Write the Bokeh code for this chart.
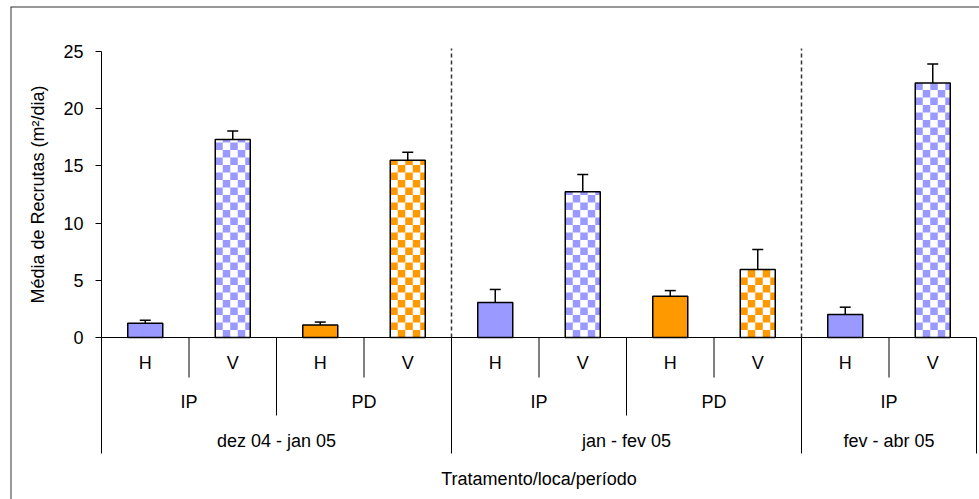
from math import pi

from bokeh.core.properties import value
from bokeh.embed import file_html
from bokeh.models import (ColumnDataSource, FixedTicker, Grid, LinearAxis,
                          Range1d, Span, TeeHead, Whisker)
from bokeh.plotting import figure
from bokeh.resources import INLINE

# ---- data -----------------------------------------------------------------
periodos = ["dez 04 - jan 05"] * 4 + ["jan - fev 05"] * 4 + ["fev - abr 05"] * 2
locais = ["IP", "IP", "PD", "PD", "IP", "IP", "PD", "PD", "IP", "IP"]
tratamentos = ["H", "V", "H", "V", "H", "V", "H", "V", "H", "V"]
medias = [1.25, 17.3, 1.1, 15.5, 3.05, 12.75, 3.6, 5.95, 2.0, 22.25]
erros = [0.25, 0.75, 0.25, 0.7, 1.15, 1.5, 0.5, 1.75, 0.65, 1.65]
y_ticks = [0, 5, 10, 15, 20, 25]

y_titulo = "Média de Recrutas (m²/dia)"
x_titulo = "Tratamento/loca/período"

# ---- styles / geometry ----------------------------------------------------
cores = {"IP": "#9999FF", "PD": "#FF9900"}
FONT = value("Liberation Sans")
W, H = 979, 499
LEFT, TOP = 10, 6                    # corner of the outer frame
AX_X, AX_Y0, AX_YMAX = 101, 337, 51  # screen position of the value axis
CAT_PX = 87.5                        # width of one category slot
UNIT_PX = (AX_Y0 - AX_YMAX) / y_ticks[-1]
BAR_W = 0.4
CELL_PX = 7.5                        # checkerboard cell size
SEP_PX = {1: 40, 2: 78, 3: 116}      # depth of the category separators
LEVEL_OFF = {1: 25.5, 2: 64.5, 3: 103}
TITLE_OFF = 141.5

n = len(medias)
x_range = Range1d(-(AX_X - LEFT) / CAT_PX, (W - AX_X) / CAT_PX)
y_range = Range1d(-(H - AX_Y0) / UNIT_PX, (AX_Y0 - TOP) / UNIT_PX)

p = figure(width=W, height=H, x_range=x_range, y_range=y_range,
           output_backend="svg", toolbar_location=None,
           x_axis_location=None, y_axis_location=None,
           min_border_left=LEFT, min_border_top=TOP,
           min_border_right=0, min_border_bottom=0,
           outline_line_color=None, background_fill_color="white",
           border_fill_color="white")
for r in list(p.center):
    if isinstance(r, Grid):
        r.visible = False

# outer frame (top and left edges)
p.add_layout(Span(location=y_range.end, dimension="width",
                  line_color="#333333", line_width=2))
p.add_layout(Span(location=x_range.start, dimension="height",
                  line_color="#333333", line_width=2))

# value axis
yaxis = LinearAxis(fixed_location=0, bounds=(y_ticks[0], y_ticks[-1]),
                   ticker=FixedTicker(ticks=y_ticks),
                   axis_line_color="black", axis_line_width=1,
                   major_tick_line_color="black", major_tick_out=6,
                   major_tick_in=0, minor_tick_out=0, minor_tick_in=0,
                   major_label_standoff=12,
                   major_label_text_font="Liberation Sans",
                   major_label_text_font_size="18px",
                   major_label_text_color="black")
p.add_layout(yaxis, "left")

# ---- bars -----------------------------------------------------------------
xs = [i + 0.5 for i in range(n)]
uppers = [m + e for m, e in zip(medias, erros)]
cols = [cores[l] for l in locais]
solid = [i for i in range(n) if tratamentos[i] == "H"]
checked = [i for i in range(n) if tratamentos[i] == "V"]

p.vbar(x=[xs[i] for i in solid], top=[medias[i] for i in solid], bottom=0,
       width=BAR_W, fill_color=[cols[i] for i in solid],
       line_color="black", line_width=1.5)

# checkerboard fill of the V bars, built cell by cell inside each bar
cw, ch = CELL_PX / CAT_PX, CELL_PX / UNIT_PX
ql, qr, qb, qt, qc = [], [], [], [], []
for i in checked:
    left, right, top = xs[i] - BAR_W / 2, xs[i] + BAR_W / 2, medias[i]
    r = 0
    while r * ch < top:
        c = 0
        while left + c * cw < right:
            if (r + c) % 2 == 1:
                ql.append(left + c * cw)
                qr.append(min(left + (c + 1) * cw, right))
                qb.append(r * ch)
                qt.append(min((r + 1) * ch, top))
                qc.append(cols[i])
            c += 1
        r += 1

p.vbar(x=[xs[i] for i in checked], top=[medias[i] for i in checked],
       bottom=0, width=BAR_W, fill_color="white", line_color=None)
p.quad(left=ql, right=qr, bottom=qb, top=qt, fill_color=qc, line_color=None)
p.vbar(x=[xs[i] for i in checked], top=[medias[i] for i in checked],
       bottom=0, width=BAR_W, fill_color=None, line_color="black",
       line_width=1.5)

err_src = ColumnDataSource(dict(x=xs, lower=medias, upper=uppers))
p.add_layout(Whisker(source=err_src, base="x", lower="lower", upper="upper",
                     line_color="black", line_width=1.5, lower_head=None,
                     upper_head=TeeHead(size=11, line_color="black",
                                        line_width=1.5)))

# ---- category axis --------------------------------------------------------
p.segment(x0=[0], y0=[0], x1=[n], y1=[0], line_color="black", line_width=1)

def depth(b):
    if b == 0 or b == n or periodos[b] != periodos[b - 1]:
        return 3
    if locais[b] != locais[b - 1]:
        return 2
    return 1

bx, by1, dash_x = [], [], []
for b in range(n + 1):
    d = depth(b)
    bx.append(b)
    by1.append(-SEP_PX[d] / UNIT_PX)
    if d == 3 and 0 < b < n:
        dash_x.append(b)
p.segment(x0=bx, y0=[0] * len(bx), x1=bx, y1=by1,
          line_color="black", line_width=1)
p.segment(x0=dash_x, y0=[0] * len(dash_x), x1=dash_x,
          y1=[(AX_Y0 - 48) / UNIT_PX] * len(dash_x),
          line_color="#333333", line_width=1.5, line_dash="4 3")

def runs(keys):
    out, start = [], 0
    for i in range(1, n + 1):
        if i == n or keys[i] != keys[start]:
            out.append(((start + i) / 2, keys[start]))
            start = i
    return out

lvl1 = [(xs[i], tratamentos[i]) for i in range(n)]
lvl2 = [(c, k[1]) for c, k in runs(list(zip(periodos, locais)))]
lvl3 = runs(periodos)

for level, items in ((1, lvl1), (2, lvl2), (3, lvl3)):
    p.text(x=[c for c, _ in items], y=[0] * len(items),
           text=[t for _, t in items], y_offset=LEVEL_OFF[level],
           text_align="center", text_baseline="middle",
           text_font=FONT, text_font_size="18px", text_color="black")

p.text(x=[n / 2], y=[0], text=[x_titulo], y_offset=TITLE_OFF,
       text_align="center", text_baseline="middle",
       text_font=FONT, text_font_size="18px", text_color="black")
p.text(x=[0], y=[y_ticks[-1] / 2], text=[y_titulo], angle=pi / 2,
       x_offset=-64, text_align="center", text_baseline="middle",
       text_font=FONT, text_font_size="18px", text_color="black")

open("out.html", "w").write(file_html(p, INLINE))
